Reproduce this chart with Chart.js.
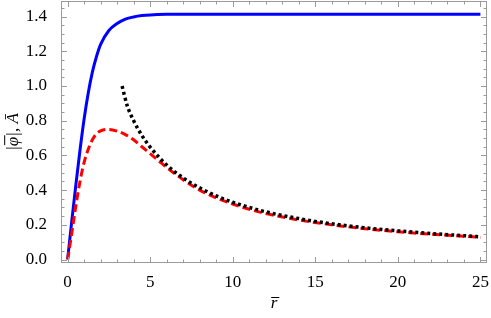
<!DOCTYPE html>
<html>
<head>
<meta charset="utf-8">
<script src="https://cdn.jsdelivr.net/npm/chart.js@4.4.1/dist/chart.umd.min.js"></script>
<style>
  html, body { margin: 0; padding: 0; background: #fff; }
  #wrap { width: 491px; height: 318px; }
</style>
</head>
<body>
<div id="wrap"><canvas id="c" width="491" height="318"></canvas></div>
<script>
// Blue solid curve: |phi|
const blueR = [0, 0.25, 0.5, 0.75, 1.0, 1.25, 1.5, 1.75, 2.0, 2.5, 3.0, 3.5, 4.0, 4.5, 5.0, 6.0, 8.0, 12, 16, 20, 25];
const blueV = [0, 0.22, 0.43, 0.63, 0.81, 0.96, 1.08, 1.17, 1.24, 1.32, 1.36, 1.385, 1.398, 1.406, 1.41, 1.413, 1.414, 1.414, 1.414, 1.414, 1.414];
// Red dashed curve: A
const redR = [0, 0.25, 0.5, 0.75, 1.0, 1.25, 1.5, 1.75, 2.0, 2.5, 3.0, 3.5, 4.0, 4.5, 5.0, 5.5, 6.0, 7.0, 8.0, 9.0, 10, 11, 12, 14, 16, 18, 20, 22, 25];
const redV = [0, 0.15, 0.31, 0.45, 0.56, 0.635, 0.69, 0.725, 0.742, 0.75, 0.74, 0.72, 0.69, 0.65, 0.61, 0.57, 0.53, 0.46, 0.40, 0.355, 0.32, 0.29, 0.265, 0.228, 0.2, 0.178, 0.16, 0.146, 0.128];
// Black dotted curve: asymptotic
const blackR = [3.3, 3.6, 4.0, 4.5, 5.0, 5.6, 6.0, 7.0, 8.0, 9.0, 10, 12, 14, 16, 18, 20, 22, 25];
const blackV = [1.0, 0.89, 0.80, 0.715, 0.648, 0.583, 0.545, 0.47, 0.413, 0.367, 0.33, 0.275, 0.236, 0.206, 0.183, 0.165, 0.15, 0.131];

const xTicks = [0, 5, 10, 15, 20, 25];
const yTicks = [0.0, 0.2, 0.4, 0.6, 0.8, 1.0, 1.2, 1.4];
const xTitle = 'r';
const yTitle = '|\u03C6|, \u0100';

const pts = (rs, vs) => rs.map((r, i) => ({ x: r, y: vs[i] }));

const frameColor = '#9a9a9a';
const tickColor = '#9a9a9a';
const serif = "'Liberation Serif', 'DejaVu Serif', serif";
const labelFont = { family: serif, size: 17 };
const titleFont = { family: serif, size: 17, style: 'italic' };

const framePlugin = {
  id: 'frame',
  afterDatasetsDraw(chart) {
    const { ctx, chartArea: a, scales: { x, y } } = chart;
    ctx.save();
    ctx.strokeStyle = frameColor;
    ctx.lineWidth = 1;
    ctx.strokeRect(a.left + 0.5, a.top + 0.5, a.right - a.left - 1, a.bottom - a.top - 1);
    ctx.strokeStyle = tickColor;
    ctx.beginPath();
    for (let v = 0; v <= 25; v += 1) {
      const px = Math.round(x.getPixelForValue(v)) + 0.5;
      const len = (v % 5 === 0) ? 6 : 3.5;
      ctx.moveTo(px, a.bottom); ctx.lineTo(px, a.bottom - len);
      ctx.moveTo(px, a.top); ctx.lineTo(px, a.top + len);
    }
    for (let k = 0; k <= 29; k++) {
      const v = k * 0.05;
      const py = Math.round(y.getPixelForValue(v)) + 0.5;
      const len = (k % 4 === 0) ? 6 : 3.5;
      ctx.moveTo(a.left, py); ctx.lineTo(a.left + len, py);
      ctx.moveTo(a.right, py); ctx.lineTo(a.right - len, py);
    }
    ctx.stroke();
    ctx.restore();
  },
  afterDraw(chart) {
    // overbars for the axis-title symbols (r-bar, phi-bar)
    const { ctx, scales: { x, y } } = chart;
    const lh = titleFont.size * 1.2;
    ctx.save();
    ctx.font = `italic ${titleFont.size}px ${serif}`;
    ctx.strokeStyle = '#000';
    ctx.lineWidth = 1;
    // x title
    const xt = x.options.title;
    const tx = (x.left + x.right) / 2;
    const ty = x.bottom - lh / 2 - xt.padding.bottom;
    const rw = ctx.measureText(xTitle).width;
    ctx.beginPath();
    ctx.moveTo(tx - rw / 2 + 0.5, Math.round(ty - 7) + 0.5);
    ctx.lineTo(tx + rw / 2 + 2, Math.round(ty - 7) + 0.5);
    ctx.stroke();
    // y title (rotated)
    const yt = y.options.title;
    const cx = y.left + lh / 2 + yt.padding.top;
    const cy = (y.top + y.bottom) / 2;
    const tw = ctx.measureText(yTitle).width;
    const s0 = -tw / 2 + ctx.measureText('|').width;
    const pw = ctx.measureText('\u03C6').width;
    ctx.translate(cx, cy);
    ctx.rotate(-Math.PI / 2);
    ctx.beginPath();
    ctx.moveTo(s0 + 1, -8.5);
    ctx.lineTo(s0 + pw + 1.5, -8.5);
    ctx.stroke();
    ctx.restore();
  }
};

new Chart(document.getElementById('c'), {
  type: 'line',
  data: {
    datasets: [
      { data: pts(blackR, blackV), borderColor: '#000000', borderWidth: 3.5, borderDash: [3, 3], pointRadius: 0, fill: false, cubicInterpolationMode: 'monotone' },
      { data: pts(redR, redV), borderColor: '#ff0000', borderWidth: 3, borderDash: [8, 4], pointRadius: 0, fill: false, cubicInterpolationMode: 'monotone' },
      { data: pts(blueR, blueV), borderColor: '#0000ff', borderWidth: 3, pointRadius: 0, fill: false, cubicInterpolationMode: 'monotone' }
    ]
  },
  options: {
    responsive: false,
    animation: false,
    devicePixelRatio: 1,
    layout: { padding: { top: 1, right: 4, left: 0, bottom: 0 } },
    plugins: { legend: { display: false }, tooltip: { enabled: false } },
    scales: {
      x: {
        type: 'linear', min: -0.4, max: 25.4,
        grid: { display: false }, border: { display: false },
        afterBuildTicks: s => { s.ticks = xTicks.map(v => ({ value: v })); },
        afterFit: s => { s.height = 55; s.paddingLeft = 0; s.paddingRight = 0; },
        ticks: { color: '#000', font: labelFont, padding: 1, maxRotation: 0, autoSkip: false, callback: v => String(v) },
        title: { display: true, text: xTitle, color: '#000', font: titleFont, padding: { top: 0, bottom: 4 } }
      },
      y: {
        type: 'linear', min: -0.02, max: 1.49,
        grid: { display: false }, border: { display: false },
        afterBuildTicks: s => { s.ticks = yTicks.map(v => ({ value: v })); },
        afterFit: s => { s.width = 61; s.paddingTop = 0; s.paddingBottom = 0; },
        ticks: { color: '#000', font: labelFont, padding: 6, autoSkip: false, callback: v => Number(v).toFixed(1) },
        title: { display: true, text: yTitle, color: '#000', font: titleFont, padding: { top: 3, bottom: 0 } }
      }
    }
  },
  plugins: [framePlugin]
});
</script>
</body>
</html>
